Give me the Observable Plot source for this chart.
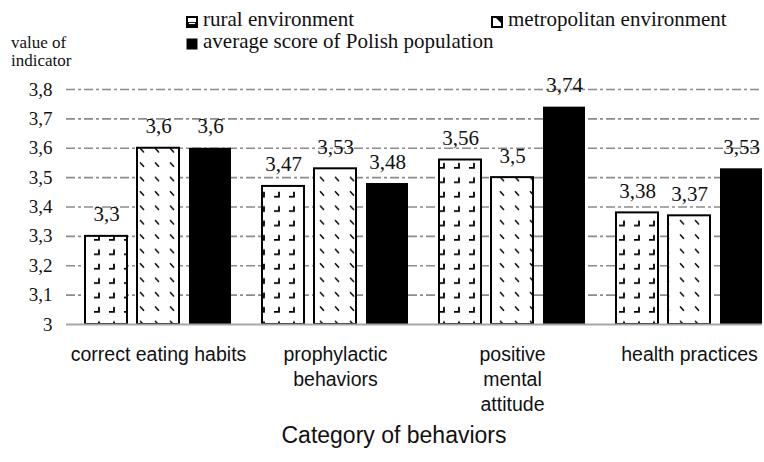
<!DOCTYPE html>
<html>
<head>
<meta charset="utf-8">
<script src="https://cdn.jsdelivr.net/npm/d3@7"></script>
<script src="https://cdn.jsdelivr.net/npm/@observablehq/plot@0.6"></script>
<style>
  html, body { margin: 0; padding: 0; background: #fff; }
  #wrap { position: relative; width: 764px; height: 462px; overflow: hidden; }
  .serif { font-family: 'Liberation Serif', 'Times New Roman', serif; color: #111; position: absolute; white-space: nowrap; line-height: 1.15; }
  .leg { font-size: 21px; }
  .sym { position: absolute; }
  #xtitle { position: absolute; font-family: 'Liberation Sans Narrow', 'Liberation Sans', sans-serif; font-size: 23px; color: #111; white-space: nowrap; line-height: 1.15; }
  svg text { font-family: 'Liberation Serif', 'Times New Roman', serif; }
</style>
</head>
<body>
<div id="wrap"></div>
<script>
const categories = ["correct eating habits", "prophylactic behaviors", "positive mental attitude", "health practices"];
const categoryLabels = ["correct eating habits", "prophylactic\nbehaviors", "positive\nmental\nattitude", "health practices"];
const seriesNames = ["rural environment", "metropolitan environment", "average score of Polish population"];
const rural = [3.3, 3.47, 3.56, 3.38];
const metropolitan = [3.6, 3.53, 3.5, 3.37];
const average = [3.6, 3.48, 3.74, 3.53];
const yTicks = [3, 3.1, 3.2, 3.3, 3.4, 3.5, 3.6, 3.7, 3.8];
const yTitle = ["value of", "indicator"];
const xTitle = "Category of behaviors";

const fmt = d => String(d).replace(".", ",");
const rows = (vals) => categories.map((c, i) => ({category: c, value: vals[i]}));
const ruralData = rows(rural), metroData = rows(metropolitan), avgData = rows(average);
const labelMap = new Map(categories.map((c, i) => [c, categoryLabels[i]]));

const W = 764, H = 462;
const bw = 146; // band width (px) for layout of insets
const barW = 42, gap = 10;
const SERIF = "'Liberation Serif', 'Times New Roman', serif";
const SANS = "'Liberation Sans Narrow', 'Liberation Sans', sans-serif";

const svg = Plot.plot({
  width: W,
  height: H,
  marginLeft: 66,
  marginRight: 2,
  marginTop: 89,
  marginBottom: 138,
  style: {fontFamily: SERIF, fontSize: "19px", color: "#111", background: "white", overflow: "visible"},
  x: {domain: categories, paddingInner: 0.175, paddingOuter: 0.0535, align: 1, axis: null},
  y: {domain: [3, 3.8], ticks: yTicks, tickFormat: fmt, tickSize: 0, tickPadding: 14, label: null},
  marks: [
    Plot.ruleY(yTicks.filter(t => t > 3), {stroke: "#8c8c8c", strokeWidth: 1.6, strokeDasharray: "9,3,3,3"}),
    Plot.barY(ruralData, {x: "category", y1: 3, y2: "value", fill: "url(#patRural)", stroke: "black", strokeWidth: 2, insetLeft: 0, insetRight: bw - barW}),
    Plot.barY(metroData, {x: "category", y1: 3, y2: "value", fill: "url(#patMetro)", stroke: "black", strokeWidth: 2, insetLeft: barW + gap, insetRight: bw - 2 * barW - gap}),
    Plot.barY(avgData, {x: "category", y1: 3, y2: "value", fill: "black", insetLeft: 2 * (barW + gap), insetRight: 0}),
    Plot.ruleY([3], {stroke: "#a6a6a6", strokeWidth: 2}),
    Plot.text(ruralData, {x: "category", y: "value", text: d => fmt(d.value), dx: barW / 2 - bw / 2, dy: -15, lineAnchor: "bottom", fontSize: 21, fontFamily: SERIF, fill: "#111"}),
    Plot.text(metroData, {x: "category", y: "value", text: d => fmt(d.value), dx: (barW + gap + barW / 2) - bw / 2, dy: -15, lineAnchor: "bottom", fontSize: 21, fontFamily: SERIF, fill: "#111"}),
    Plot.text(avgData, {x: "category", y: "value", text: d => fmt(d.value), dx: (2 * (barW + gap) + barW / 2) - bw / 2, dy: -15, lineAnchor: "bottom", fontSize: 21, fontFamily: SERIF, fill: "#111"}),
    Plot.text(categories, {x: d => d, text: d => labelMap.get(d), frameAnchor: "bottom", lineAnchor: "top", dy: 19, lineHeight: 1.28, fontSize: 19.5, fontFamily: SANS, fill: "#111"})
  ]
});

// patterns
const defs = d3.select(svg).insert("defs", ":first-child");
const p1 = defs.append("pattern").attr("id", "patRural").attr("patternUnits", "userSpaceOnUse").attr("width", 15).attr("height", 14.4);
p1.append("rect").attr("width", 15).attr("height", 14.4).attr("fill", "white");
p1.append("path").attr("d", "M4,9.5 H9 V4.5").attr("fill", "none").attr("stroke", "black").attr("stroke-width", 1.8);
const p2 = defs.append("pattern").attr("id", "patMetro").attr("patternUnits", "userSpaceOnUse").attr("width", 15).attr("height", 14.4);
p2.append("rect").attr("width", 15).attr("height", 14.4).attr("fill", "white");
p2.append("path").attr("d", "M5,4 L9,8.5").attr("fill", "none").attr("stroke", "black").attr("stroke-width", 1.5);

// category labels use sans (override the generic svg text rule)
d3.select(svg).selectAll("g[font-family*='Sans'] text").style("font-family", SANS);

const wrap = document.getElementById("wrap");
wrap.appendChild(svg);
svg.style.position = "absolute";
svg.style.left = "0px";
svg.style.top = "0px";

// y title (two lines)
const yt = document.createElement("div");
yt.className = "serif";
yt.style.fontSize = "17px";
yt.style.lineHeight = "18px";
yt.style.left = "11px";
yt.style.top = "34px";
yt.innerHTML = yTitle.join("<br>");
wrap.appendChild(yt);

// legend
const symbols = [
  `<svg width="12" height="12"><rect x="1" y="1" width="10" height="10" fill="white" stroke="black" stroke-width="2"/><rect x="1" y="6" width="10" height="5" fill="black"/><line x1="3" y1="7.5" x2="9" y2="7.5" stroke="white" stroke-width="1.2"/></svg>`,
  `<svg width="12" height="12"><rect x="1" y="1" width="10" height="10" fill="white" stroke="black" stroke-width="2"/><path d="M5,2 L10,7 L10,2 Z" fill="black"/></svg>`,
  `<svg width="12" height="12"><rect x="0.5" y="0.5" width="11" height="11" fill="black"/></svg>`
];
const legPos = [[186, 16, 203, 7], [491, 16, 508, 7], [186, 38, 203, 29]];
seriesNames.forEach((s, i) => {
  const [sx, sy, tx, ty] = legPos[i];
  const sym = document.createElement("div");
  sym.className = "sym";
  sym.style.left = sx + "px"; sym.style.top = sy + "px";
  sym.style.lineHeight = "0";
  sym.innerHTML = symbols[i];
  wrap.appendChild(sym);
  const t = document.createElement("div");
  t.className = "serif leg";
  t.style.left = tx + "px"; t.style.top = ty + "px";
  t.textContent = s;
  wrap.appendChild(t);
});

// x title
const xt = document.createElement("div");
xt.id = "xtitle";
xt.textContent = xTitle;
wrap.appendChild(xt);
xt.style.left = (394 - xt.offsetWidth / 2) + "px";
xt.style.top = "422px";
</script>
</body>
</html>
